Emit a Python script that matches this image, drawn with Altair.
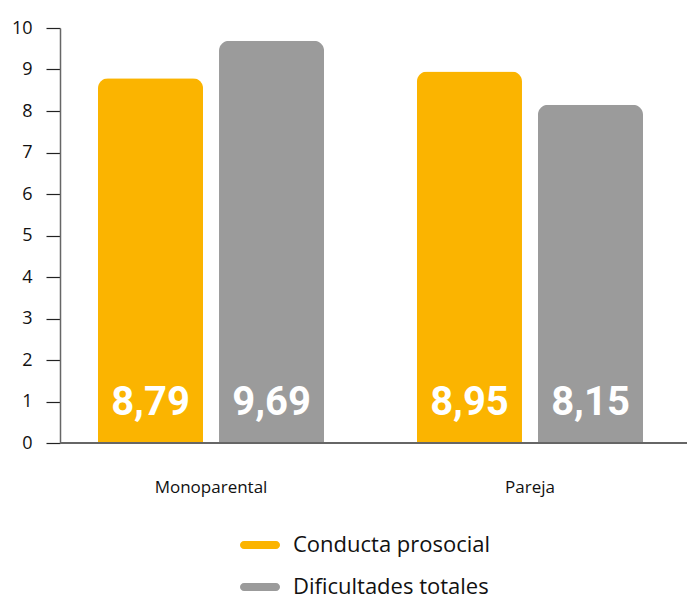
import altair as alt
import pandas as pd

groups = ["Monoparental", "Pareja"]
series = ["Conducta prosocial", "Dificultades totales"]
prosocial = [8.79, 8.95]
dificultades = [9.69, 8.15]
colors = ["#FBB400", "#9B9B9B"]

rows = []
for i, g in enumerate(groups):
    for s, vals in zip(series, [prosocial, dificultades]):
        v = vals[i]
        rows.append({"grupo": g, "serie": s, "valor": v,
                     "etiqueta": f"{v:.2f}".replace(".", ",")})
df = pd.DataFrame(rows)

pill = "M -0.8,-0.2 L 0.8,-0.2 A 0.2,0.2 0 0 1 0.8,0.2 L -0.8,0.2 A 0.2,0.2 0 0 1 -0.8,-0.2 Z"

x_enc = alt.X("grupo:N", sort=groups, title=None,
              scale=alt.Scale(paddingInner=0.053, paddingOuter=0),
              axis=alt.Axis(labelAngle=0, ticks=False, domain=False,
                            labelPadding=36, labelFontSize=17,
                            labelFont="Open Sans", labelColor="#111"))
xo_enc = alt.XOffset("serie:N", sort=series,
                     scale=alt.Scale(paddingInner=0.132, paddingOuter=0.314))

bars = alt.Chart(df).mark_bar(cornerRadiusTopLeft=10, cornerRadiusTopRight=10).encode(
    x=x_enc,
    xOffset=xo_enc,
    y=alt.Y("valor:Q", title=None,
            scale=alt.Scale(domain=[0, 10], nice=False),
            axis=alt.Axis(values=list(range(0, 11)), grid=False,
                          tickSize=14, tickColor="#222", tickWidth=1.2,
                          domainColor="#666", domainWidth=1.5,
                          labelPadding=14, labelFontSize=18,
                          labelFont="Open Sans", labelColor="#111")),
    color=alt.Color("serie:N", sort=series, title=None,
                    scale=alt.Scale(domain=series, range=colors),
                    legend=alt.Legend(orient="none", legendX=180, legendY=497,
                                      direction="vertical",
                                      symbolType=pill, symbolSize=1600,
                                      symbolStrokeWidth=0,
                                      labelFontSize=22, labelFont="Open Sans",
                                      labelColor="#111", labelOffset=13,
                                      labelLimit=400,
                                      rowPadding=11)),
)

labels = alt.Chart(df).mark_text(
    color="white", fontSize=40, fontWeight="bold",
    font="Roboto",
    baseline="alphabetic", align="center", dy=-28,
).encode(
    x=alt.X("grupo:N", sort=groups),
    xOffset=alt.XOffset("serie:N", sort=series),
    y=alt.datum(0),
    text="etiqueta:N",
)

baseline = alt.Chart(df).mark_rule(color="#666", strokeWidth=2).encode(
    y=alt.datum(0), x=alt.value(0), x2=alt.value(627)
)

chart = alt.layer(bars, labels, baseline).properties(
    width=621, height=415,
    autosize=alt.AutoSizeParams(type="none"),
    padding={"left": 52, "top": 20, "right": 6, "bottom": 161},
).configure_view(stroke=None)

chart.save("out.html", embed_options={"renderer": "svg", "actions": False})
